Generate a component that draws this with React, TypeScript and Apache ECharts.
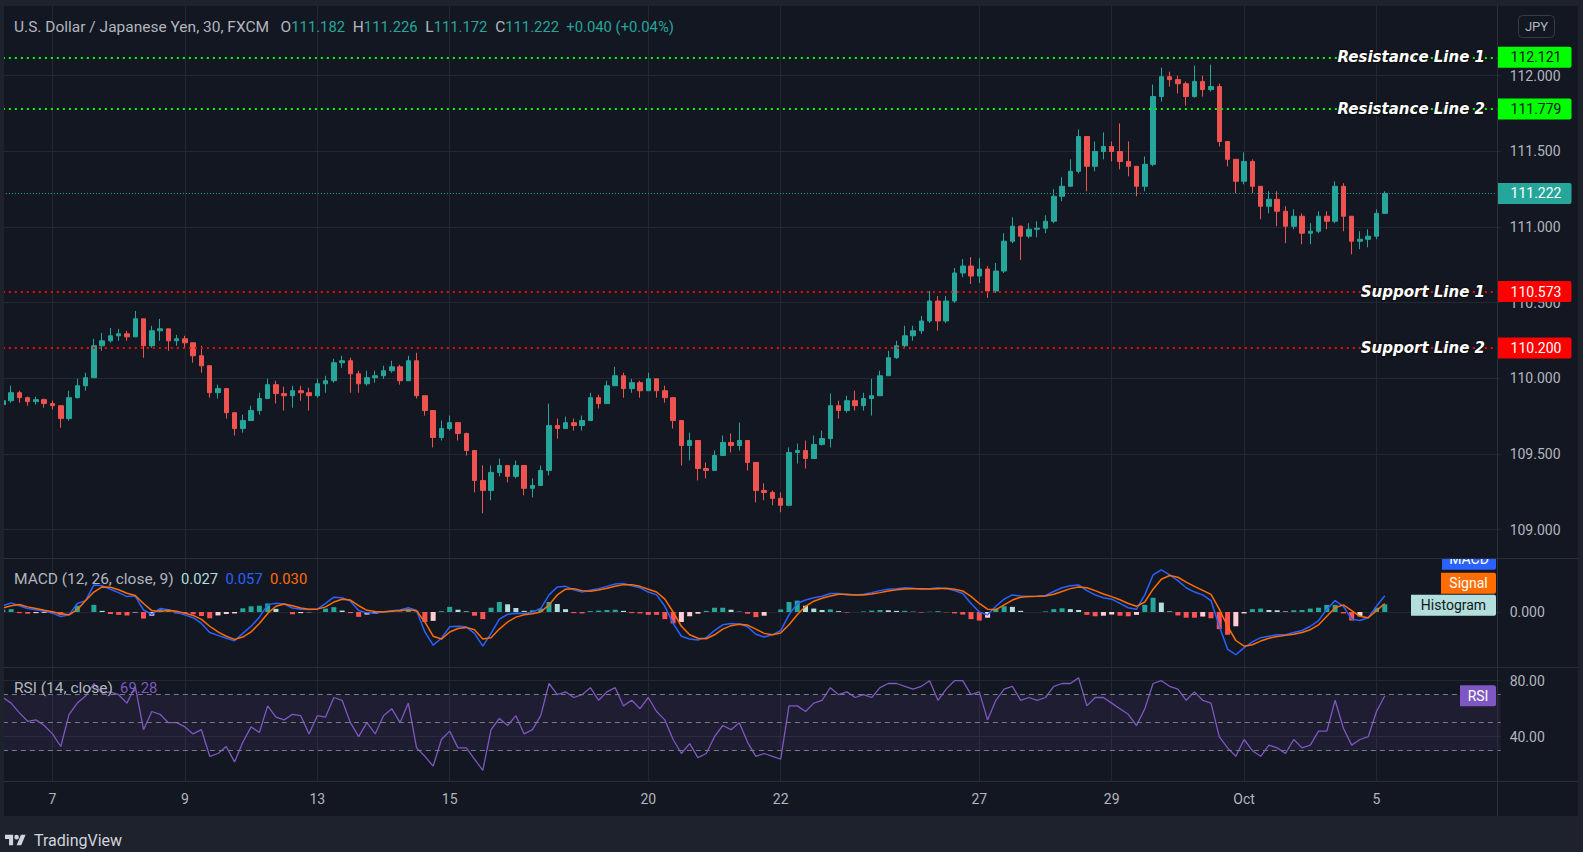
import React, { useEffect, useRef } from 'react';
import * as echarts from 'echarts';

const W = 1583;
const H = 852;

// ---- time axis ----
const dayLabels = ['7', '9', '13', '15', '20', '22', '27', '29', 'Oct', '5'];
const labelBars = [6, 22, 38, 54, 78, 94, 118, 134, 150, 166];
const slotCount = 182;

// ---- price (3h bars) ----
const firstOpen = 109.826;
const closes = [
  109.852, 109.905, 109.872, 109.846, 109.859, 109.833, 109.819, 109.734,
  109.872, 109.951, 110.004, 110.215, 110.248, 110.281, 110.294, 110.274,
  110.393, 110.215, 110.314, 110.327, 110.248, 110.261, 110.235, 110.149,
  110.083, 109.905, 109.932, 109.773, 109.668, 109.721, 109.787, 109.866,
  109.958, 109.899, 109.885, 109.918, 109.905, 109.885, 109.964, 109.984,
  110.103, 110.116, 110.030, 109.964, 110.004, 110.017, 110.050, 110.076,
  109.984, 110.116, 109.885, 109.787, 109.609, 109.668, 109.707, 109.635,
  109.523, 109.325, 109.259, 109.378, 109.424, 109.352, 109.424, 109.273,
  109.292, 109.391, 109.688, 109.668, 109.707, 109.688, 109.721, 109.872,
  109.833, 109.951, 110.017, 109.932, 109.971, 109.918, 109.997, 109.918,
  109.872, 109.721, 109.556, 109.589, 109.404, 109.391, 109.490, 109.576,
  109.556, 109.589, 109.444, 109.259, 109.246, 109.207, 109.161, 109.510,
  109.523, 109.470, 109.563, 109.602, 109.819, 109.787, 109.852, 109.819,
  109.866, 109.885, 110.017, 110.136, 110.215, 110.281, 110.314, 110.379,
  110.511, 110.379, 110.511, 110.696, 110.742, 110.676, 110.722, 110.577,
  110.709, 110.906, 111.005, 110.939, 110.985, 110.992, 111.038, 111.203,
  111.269, 111.368, 111.598, 111.401, 111.499, 111.532, 111.499, 111.433,
  111.401, 111.269, 111.414, 111.862, 111.993, 111.974, 111.947, 111.862,
  111.961, 111.908, 111.928, 111.565, 111.447, 111.302, 111.433, 111.269,
  111.137, 111.183, 111.104, 111.005, 111.071, 110.959, 110.972, 111.071,
  111.038, 111.269, 111.071, 110.906, 110.919, 110.939, 111.090, 111.222,
];
const highs = [
  109.885, 109.951, 109.918, 109.879, 109.879, 109.866, 109.852, 109.819,
  109.918, 109.997, 110.037, 110.261, 110.300, 110.333, 110.327, 110.314,
  110.445, 110.347, 110.347, 110.393, 110.294, 110.287, 110.281, 110.235,
  110.215, 110.037, 109.958, 109.918, 109.773, 109.760, 109.819, 109.905,
  109.997, 109.984, 109.945, 109.951, 109.951, 109.938, 109.997, 110.017,
  110.129, 110.149, 110.136, 110.050, 110.050, 110.050, 110.083, 110.116,
  110.090, 110.149, 110.169, 109.866, 109.721, 109.721, 109.754, 109.674,
  109.641, 109.490, 109.424, 109.424, 109.470, 109.424, 109.457, 109.391,
  109.339, 109.424, 109.833, 109.734, 109.747, 109.734, 109.754, 109.905,
  109.892, 109.984, 110.076, 110.037, 109.997, 109.984, 110.037, 109.984,
  109.951, 109.852, 109.688, 109.641, 109.490, 109.444, 109.523, 109.622,
  109.635, 109.707, 109.589, 109.391, 109.306, 109.259, 109.246, 109.543,
  109.569, 109.589, 109.622, 109.655, 109.899, 109.852, 109.885, 109.918,
  109.905, 109.997, 110.050, 110.182, 110.248, 110.347, 110.347, 110.412,
  110.577, 110.544, 110.544, 110.729, 110.788, 110.801, 110.794, 110.742,
  110.762, 110.959, 111.064, 111.011, 111.025, 111.038, 111.077, 111.249,
  111.328, 111.447, 111.644, 111.598, 111.565, 111.625, 111.565, 111.684,
  111.565, 111.368, 111.466, 111.941, 112.053, 112.026, 112.000, 111.961,
  112.066, 112.000, 112.073, 111.947, 111.565, 111.433, 111.493, 111.447,
  111.269, 111.236, 111.236, 111.137, 111.117, 111.090, 111.025, 111.104,
  111.104, 111.302, 111.289, 111.071, 110.972, 110.985, 111.117, 111.236,
];
const lows = [
  109.800, 109.839, 109.839, 109.819, 109.826, 109.806, 109.793, 109.674,
  109.721, 109.866, 109.918, 110.083, 110.182, 110.235, 110.248, 110.248,
  110.281, 110.136, 110.202, 110.248, 110.182, 110.215, 110.195, 110.103,
  110.037, 109.872, 109.866, 109.734, 109.622, 109.641, 109.721, 109.760,
  109.866, 109.833, 109.787, 109.806, 109.852, 109.787, 109.872, 109.905,
  109.971, 110.070, 109.905, 109.905, 109.951, 109.971, 109.997, 110.037,
  109.958, 109.984, 109.866, 109.754, 109.543, 109.589, 109.655, 109.589,
  109.490, 109.246, 109.108, 109.194, 109.352, 109.312, 109.339, 109.227,
  109.213, 109.325, 109.358, 109.602, 109.668, 109.655, 109.655, 109.787,
  109.800, 109.839, 109.951, 109.872, 109.905, 109.872, 109.932, 109.872,
  109.839, 109.668, 109.424, 109.457, 109.325, 109.339, 109.391, 109.490,
  109.510, 109.523, 109.391, 109.180, 109.194, 109.161, 109.115, 109.154,
  109.437, 109.404, 109.510, 109.556, 109.543, 109.734, 109.773, 109.787,
  109.787, 109.754, 109.885, 110.017, 110.129, 110.202, 110.248, 110.294,
  110.366, 110.314, 110.366, 110.498, 110.669, 110.623, 110.630, 110.531,
  110.564, 110.696, 110.893, 110.781, 110.926, 110.932, 110.959, 111.025,
  111.170, 111.269, 111.354, 111.236, 111.368, 111.447, 111.433, 111.381,
  111.335, 111.203, 111.236, 111.401, 111.829, 111.928, 111.882, 111.803,
  111.855, 111.862, 111.895, 111.532, 111.401, 111.223, 111.282, 111.223,
  111.051, 111.090, 111.005, 110.893, 110.985, 110.886, 110.886, 110.959,
  110.985, 111.025, 110.972, 110.820, 110.853, 110.866, 110.919, 111.090,
];

// ---- MACD (12, 26, close, 9) ----
const macdLine = [
  0.022, 0.032, 0.022, 0.012, 0.008, 0.003, -0.004, -0.016,
  -0.010, 0.030, 0.040, 0.095, 0.092, 0.080, 0.068, 0.054,
  0.056, 0.007, -0.008, 0.012, 0.008, -0.002, -0.010, -0.020,
  -0.040, -0.072, -0.082, -0.092, -0.101, -0.075, -0.050, -0.018,
  0.025, 0.031, 0.028, 0.014, 0.010, 0.009, 0.010, 0.030,
  0.052, 0.050, 0.038, 0.005, -0.003, -0.004, 0.001, 0.004,
  0.007, 0.015, 0.005, -0.070, -0.116, -0.092, -0.052, -0.050,
  -0.052, -0.075, -0.120, -0.075, -0.025, -0.008, -0.004, -0.006,
  0.000, 0.012, 0.060, 0.088, 0.090, 0.078, 0.070, 0.076,
  0.082, 0.090, 0.098, 0.100, 0.092, 0.085, 0.070, 0.060,
  0.020, -0.040, -0.085, -0.095, -0.098, -0.090, -0.065, -0.045,
  -0.040, -0.042, -0.052, -0.078, -0.088, -0.080, -0.065, -0.010,
  0.030, 0.042, 0.050, 0.055, 0.065, 0.065, 0.060, 0.060,
  0.062, 0.068, 0.075, 0.080, 0.082, 0.085, 0.083, 0.080,
  0.082, 0.085, 0.082, 0.075, 0.065, 0.030, 0.000, -0.010,
  0.020, 0.045, 0.060, 0.056, 0.054, 0.055, 0.058, 0.072,
  0.085, 0.092, 0.095, 0.075, 0.060, 0.050, 0.045, 0.030,
  0.015, 0.010, 0.060, 0.130, 0.148, 0.130, 0.110, 0.085,
  0.070, 0.060, 0.040, -0.050, -0.130, -0.150, -0.125, -0.105,
  -0.090, -0.085, -0.080, -0.080, -0.072, -0.065, -0.050, -0.030,
  0.010, 0.040, 0.020, -0.025, -0.030, -0.020, 0.020, 0.057,
];
const signalLine = [
  0.014, 0.022, 0.026, 0.018, 0.012, 0.006, 0.001, -0.006,
  -0.010, 0.008, 0.040, 0.070, 0.088, 0.087, 0.078, 0.066,
  0.058, 0.030, 0.005, 0.002, 0.006, 0.003, -0.004, -0.012,
  -0.026, -0.050, -0.070, -0.085, -0.096, -0.088, -0.070, -0.040,
  -0.005, 0.020, 0.028, 0.022, 0.014, 0.010, 0.010, 0.018,
  0.035, 0.045, 0.042, 0.022, 0.006, 0.002, 0.000, 0.003,
  0.005, 0.008, 0.004, -0.035, -0.085, -0.095, -0.070, -0.058,
  -0.054, -0.062, -0.095, -0.090, -0.060, -0.035, -0.018, -0.010,
  -0.006, 0.000, 0.025, 0.060, 0.080, 0.082, 0.075, 0.073,
  0.077, 0.083, 0.090, 0.096, 0.096, 0.090, 0.080, 0.070,
  0.045, 0.000, -0.050, -0.080, -0.092, -0.094, -0.080, -0.060,
  -0.048, -0.043, -0.046, -0.060, -0.075, -0.080, -0.074, -0.045,
  -0.010, 0.020, 0.038, 0.048, 0.056, 0.062, 0.062, 0.060,
  0.060, 0.063, 0.068, 0.074, 0.078, 0.081, 0.082, 0.082,
  0.081, 0.082, 0.083, 0.080, 0.074, 0.055, 0.030, 0.010,
  0.008, 0.025, 0.042, 0.052, 0.054, 0.055, 0.056, 0.062,
  0.072, 0.082, 0.088, 0.085, 0.075, 0.063, 0.054, 0.043,
  0.030, 0.020, 0.035, 0.080, 0.115, 0.128, 0.122, 0.105,
  0.090, 0.076, 0.062, 0.010, -0.050, -0.100, -0.120, -0.115,
  -0.102, -0.092, -0.086, -0.082, -0.078, -0.072, -0.062, -0.045,
  -0.015, 0.015, 0.025, 0.005, -0.015, -0.020, 0.005, 0.030,
];

// ---- RSI (14, close) ----
const rsiValues = [
  68, 64, 57, 51, 52, 48, 42, 33,
  56, 64, 69, 78, 71, 72, 70, 64,
  76, 45, 58, 56, 50, 50, 47, 42,
  45, 26, 28, 33, 22, 36, 47, 43,
  62, 54, 52, 56, 55, 42, 55, 54,
  68, 66, 50, 40, 50, 42, 55, 60,
  50, 64, 32, 26, 19, 38, 44, 32,
  32, 24, 16, 45, 53, 48, 55, 42,
  45, 55, 78, 70, 72, 68, 70, 75,
  66, 72, 75, 62, 66, 60, 68, 58,
  52, 38, 28, 35, 25, 28, 40, 48,
  45, 50, 36, 26, 28, 26, 24, 62,
  62, 58, 64, 66, 75, 70, 72, 68,
  70, 68, 75, 78, 78, 76, 74, 76,
  80, 66, 74, 80, 80, 70, 72, 52,
  66, 74, 76, 66, 68, 66, 68, 76,
  78, 78, 82, 62, 68, 68, 64, 60,
  56, 48, 60, 78, 80, 76, 74, 66,
  72, 66, 64, 40, 32, 26, 38, 30,
  26, 34, 32, 28, 38, 32, 34, 44,
  44, 66, 46, 34, 38, 40, 58, 69.28,
];

// ---- horizontal levels ----
const resistanceLevels = [112.121, 111.779];
const resistanceNames = ['Resistance Line 1', 'Resistance Line 2'];
const supportLevels = [110.573, 110.2];
const supportNames = ['Support Line 1', 'Support Line 2'];
const lastPrice = 111.222;
const headerOHLC = { o: '111.182', h: '111.226', l: '111.172', c: '111.222', chg: '+0.040 (+0.04%)' };

const UP = '#26a69a';
const DOWN = '#ef5350';
const TEXT = '#b2b5be';
const GRID = '#232732';
const SEP = '#2a2e39';
const FONT = 'Roboto, "Noto Sans", sans-serif';
const GL = 2.85;
const GW = 1497.775;
const SP = '\u00a0\u00a0';
const SP3 = '\u00a0\u00a0\u00a0';

const TV_LOGO = 'M14 22H7V11H0V4h14v18zM28 22h-8l7.5-18h8L28 22zM24 8a4 4 0 1 1-8 0a4 4 0 1 1 8 0z';
echarts.graphic.registerShape('tvlogo', echarts.graphic.extendPath(TV_LOGO, {}));

function buildOption() {
  const cats = Array.from({ length: slotCount }, (_, i) => {
    const j = labelBars.indexOf(i);
    return j >= 0 ? dayLabels[j] : '';
  });
  const candles = closes.map((c, i) => {
    const o = i === 0 ? firstOpen : closes[i - 1];
    return [o, c, Math.min(lows[i], o, c), Math.max(highs[i], o, c)];
  });
  const hist = macdLine.map((m, i) => +(m - signalLine[i]).toFixed(4));
  const histData = hist.map((h, i) => {
    const prev = i > 0 ? hist[i - 1] : h;
    let c;
    if (h >= 0) c = h >= prev ? '#26a69a' : '#b2dfdb';
    else c = h > prev ? '#ffcdd2' : '#ff5252';
    return { value: h, itemStyle: { color: c } };
  });
  const showIdx = (_i: number, v: string) => v !== '';
  const hiddenX = [0, 1, 2].map((i) => ({
    type: 'category', gridIndex: i, data: cats, boundaryGap: false, show: false,
  }));
  const yCommon = {
    type: 'value', position: 'right',
    axisLine: { show: false }, axisTick: { show: false },
    splitLine: { show: true, showMinLine: false, showMaxLine: false, lineStyle: { color: GRID, width: 1 } },
  };
  const lvl = (v: number, color: string, type: any, width: number) => ({
    yAxis: v, lineStyle: { color, type, width },
  });
  return {
    animation: false,
    backgroundColor: '#131722',
    textStyle: { fontFamily: FONT },
    grid: [
      { left: GL, width: GW, top: -1.9, height: 607.2 },
      { left: GL, width: GW, top: 555, height: 114 },
      { left: GL, width: GW, top: 652.7, height: 140 },
      { left: GL, width: GW, top: 6, height: 775 },
    ],
    xAxis: [
      ...hiddenX,
      {
        type: 'category', gridIndex: 3, data: cats, boundaryGap: false,
        axisLine: { show: false }, axisTick: { show: false },
        axisLabel: { interval: showIdx, color: TEXT, fontSize: 14, margin: 11, fontFamily: FONT },
        splitLine: { show: true, interval: showIdx, lineStyle: { color: GRID, width: 1 } },
      },
    ],
    yAxis: [
      {
        ...yCommon, gridIndex: 0, min: 108.5, max: 112.5, interval: 0.5,
        axisLabel: { color: TEXT, fontSize: 14, margin: 9, fontFamily: FONT, showMinLabel: false, showMaxLabel: false,
          formatter: (v: number) => v.toFixed(3) },
      },
      {
        ...yCommon, gridIndex: 1, min: -0.2, max: 0.2, interval: 0.2,
        axisLabel: { color: TEXT, fontSize: 14, margin: 9, fontFamily: FONT, showMinLabel: false, showMaxLabel: false,
          formatter: (v: number) => (Math.abs(v) < 1e-9 ? 0 : v).toFixed(3) },
      },
      {
        ...yCommon, gridIndex: 2, min: 0, max: 100, interval: 40,
        axisLabel: { color: TEXT, fontSize: 14, margin: 9, fontFamily: FONT, showMinLabel: false, showMaxLabel: false,
          formatter: (v: number) => v.toFixed(2) },
      },
      { type: 'value', gridIndex: 3, show: false },
    ],
    series: [
      {
        type: 'candlestick', xAxisIndex: 0, yAxisIndex: 0, data: candles, barWidth: 5,
        itemStyle: { color: UP, color0: DOWN, borderColor: UP, borderColor0: DOWN, borderWidth: 1 },
        markLine: {
          silent: true, symbol: 'none', label: { show: false }, animation: false,
          data: [
            ...resistanceLevels.map((v) => lvl(v, '#00ff00', [2, 4], 2)),
            ...supportLevels.map((v) => lvl(v, '#ff0000', [2, 4], 2)),
            lvl(lastPrice, UP, [1, 2], 1),
          ],
        },
      },
      { type: 'bar', xAxisIndex: 1, yAxisIndex: 1, data: histData, barWidth: 5 },
      { type: 'line', xAxisIndex: 1, yAxisIndex: 1, data: macdLine, symbol: 'none', z: 3,
        lineStyle: { color: '#2962ff', width: 1.5 } },
      { type: 'line', xAxisIndex: 1, yAxisIndex: 1, data: signalLine, symbol: 'none', z: 3,
        lineStyle: { color: '#ff6d00', width: 1.5 } },
      {
        type: 'line', xAxisIndex: 2, yAxisIndex: 2, data: rsiValues, symbol: 'none', z: 3,
        lineStyle: { color: '#7e57c2', width: 1.3 },
        markArea: { silent: true, itemStyle: { color: 'rgba(126,87,194,0.1)' }, data: [[{ yAxis: 30 }, { yAxis: 70 }]] },
        markLine: {
          silent: true, symbol: 'none', label: { show: false },
          data: [70, 50, 30].map((v) => lvl(v, '#787b86', [5, 4], 1)),
        },
      },
    ],
  };
}

function txt(x: number, y: number, text: string, extra: any, z = 15) {
  return {
    type: 'text', x, y, z,
    style: {
      text, fontFamily: FONT, fontSize: 14, fill: TEXT,
      align: 'left', verticalAlign: 'middle', textAlign: 'left', textVerticalAlign: 'middle',
      ...extra,
    },
  };
}

function tag(x: number, yc: number, w: number, bg: string, fg: string, label: string, tx: number, z = 10) {
  return [
    { type: 'rect', z, shape: { x, y: yc - 10.5, width: w, height: 21, r: [0, 2, 2, 0] }, style: { fill: bg } },
    txt(tx, yc, label, { fill: fg, align: 'center', textAlign: 'center' }, z),
  ];
}

function rs(color: string, size: number) {
  return { fill: color, color, fontSize: size, fontFamily: FONT };
}

function buildGraphics(chart: any) {
  const yP = (v: number) => chart.convertToPixel({ yAxisIndex: 0 }, v) as number;
  const yM = (v: number) => chart.convertToPixel({ yAxisIndex: 1 }, v) as number;
  const yR = (v: number) => chart.convertToPixel({ yAxisIndex: 2 }, v) as number;
  const last = closes.length - 1;
  const histLast = macdLine[last] - signalLine[last];
  const els: any[] = [];

  // level names
  const nameStyle = {
    fill: '#ffffff', fontFamily: '"DejaVu Sans", sans-serif', fontSize: 15, fontWeight: 'bold', fontStyle: 'italic',
    align: 'right', textAlign: 'right', stroke: 'rgba(15,15,20,0.9)', lineWidth: 2.5, strokeFirst: true,
  };
  resistanceLevels.forEach((v, i) => els.push(txt(1485, yP(v), resistanceNames[i], nameStyle, 9)));
  supportLevels.forEach((v, i) => els.push(txt(1485, yP(v), supportNames[i], nameStyle, 9)));

  // price tags
  resistanceLevels.forEach((v) => els.push(...tag(1497, yP(v), 74.5, '#00ff00', '#131722', v.toFixed(3), 1536)));
  supportLevels.forEach((v) => els.push(...tag(1497, yP(v), 74.5, '#ff0000', '#ffffff', v.toFixed(3), 1536)));
  els.push(...tag(1497, yP(lastPrice), 74.5, UP, '#ffffff', lastPrice.toFixed(3), 1536));

  // MACD tags (stacked)
  const hy = yM(histLast) + 1;
  els.push(...tag(1411, hy, 85, '#b2dfdb', '#131722', 'Histogram', 1453.5, 10));
  els.push(...tag(1441, hy - 22, 55, '#ff6d00', '#ffffff', 'Signal', 1468.5, 10));
  els.push(...tag(1442, hy - 46, 54, '#2962ff', '#ffffff', 'MACD', 1469, 10));
  els.push({ type: 'rect', z: 11, shape: { x: 1400, y: 532, width: 97, height: 26 }, style: { fill: '#131722' } });

  // RSI tag
  els.push(...tag(1460, yR(rsiValues[last]), 36, '#7e57c2', '#ffffff', 'RSI', 1478, 10));

  // legends
  const G = 15.5;
  const V = 14.8;
  els.push(txt(14, 27,
    `{g|U.S. Dollar / Japanese Yen, 30, FXCM${SP3}O}{v|${headerOHLC.o}}{g|${SP}H}{v|${headerOHLC.h}}{g|${SP}L}{v|${headerOHLC.l}}{g|${SP}C}{v|${headerOHLC.c}}{v|${SP}${headerOHLC.chg}}`,
    { rich: { g: rs(TEXT, G), v: rs(UP, V) } }, 15));
  els.push(txt(14, 579,
    `{g|MACD (12, 26, close, 9)}{h|${SP}${histLast.toFixed(3)}}{m|${SP}${macdLine[last].toFixed(3)}}{s|${SP}${signalLine[last].toFixed(3)}}`,
    { rich: { g: rs(TEXT, G), h: rs('#b2dfdb', V), m: rs('#2962ff', V), s: rs('#ff6d00', V) } }, 15));
  els.push(txt(14, 688,
    `{g|RSI (14, close)}{r|${SP}${rsiValues[last].toFixed(2)}}`,
    { rich: { g: rs(TEXT, G), r: rs('#7e57c2', V) } }, 15));

  // JPY box
  els.push({ type: 'rect', z: 15, shape: { x: 1518.5, y: 15.5, width: 36, height: 22, r: 4 }, style: { fill: '#131722', stroke: '#363a45', lineWidth: 1 } });
  els.push(txt(1536.5, 26.5, 'JPY', { align: 'center', textAlign: 'center', fontSize: 13 }, 16));

  // separators
  const line = (x1: number, y1: number, x2: number, y2: number) => ({
    type: 'line', z: 12, shape: { x1, y1, x2, y2 }, style: { stroke: SEP, lineWidth: 1 },
  });
  els.push(line(1497.5, 6, 1497.5, 816));
  els.push(line(4, 558.5, 1578, 558.5));
  els.push(line(4, 667.5, 1578, 667.5));
  els.push(line(4, 781.5, 1578, 781.5));

  // outer strips
  const strip = (x: number, y: number, w: number, h: number) => ({
    type: 'rect', z: 20, shape: { x, y, width: w, height: h }, style: { fill: '#1e222d' },
  });
  els.push(strip(0, 0, W, 6), strip(0, 816, W, 36), strip(0, 0, 4, H), strip(1578, 0, 5, H));

  // TradingView logo
  els.push({ type: 'tvlogo', x: 5, y: 832.5, scaleX: 0.58, scaleY: 0.58, z: 21, style: { fill: '#d1d4dc' } });
  els.push(txt(34, 840, 'TradingView', { fill: '#d1d4dc', fontSize: 16 }, 21));
  return els;
}

export default function App() {
  const ref = useRef<HTMLDivElement>(null);
  useEffect(() => {
    const el = ref.current as HTMLDivElement;
    const chart = echarts.init(el, undefined, { renderer: 'svg', width: W, height: H });
    chart.setOption(buildOption() as any);
    chart.setOption({ graphic: { elements: buildGraphics(chart) } } as any);
    return () => chart.dispose();
  }, []);
  return <div ref={ref} style={{ position: 'fixed', left: 0, top: 0, width: W, height: H }} />;
}
